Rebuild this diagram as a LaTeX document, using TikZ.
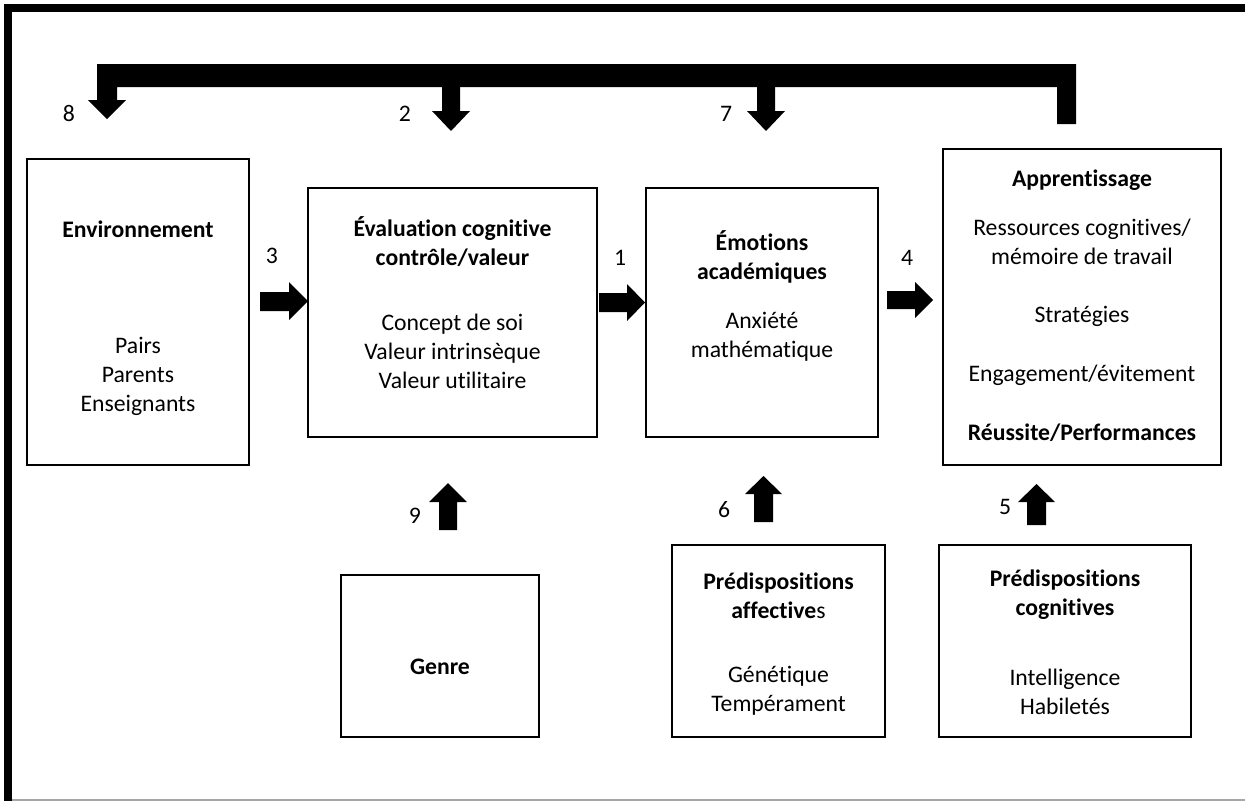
\documentclass[tikz,border=0pt]{standalone}
\usepackage{fontspec}
\setmainfont{Carlito}[Ligatures=NoCommon]
\begin{document}
\begin{tikzpicture}[x=1pt,y=-1pt,
  txt/.style={font=\fontsize{23.7}{29}\selectfont, align=center, inner sep=0pt},
  box/.style={draw=black, line width=2pt, inner sep=0pt},
  blk/.style={fill=black, draw=none}]
\useasboundingbox (0,0) rectangle (1245,801);
\fill[white] (0,0) rectangle (1245,801);
% page frame
\fill[black] (4,4) rectangle (1245,12);
\fill[black] (4,4) rectangle (12,801);
\draw[gray!70, line width=1.2pt] (12,800) -- (1245,800);

% boxes
\node[box, minimum width=222pt, minimum height=306pt] (env) at (138,312) {};
\node[box, minimum width=289pt, minimum height=249pt] (eval) at (452.5,312.5) {};
\node[box, minimum width=232pt, minimum height=249pt] (emo) at (762,312.5) {};
\node[box, minimum width=278pt, minimum height=316pt] (app) at (1082,307) {};
\node[box, minimum width=198pt, minimum height=162pt] (genre) at (440,656) {};
\node[box, minimum width=213pt, minimum height=192pt] (paff) at (778.5,641) {};
\node[box, minimum width=252pt, minimum height=192pt] (pcog) at (1065,641) {};

% texts
\node[txt] (envT) at (138,229) {\textbf{Environnement}};
\node[txt] (envL) at (138,376) {Pairs\\Parents\\Enseignants};
\node[txt] (evalT) at (452.5,241.5) {\textbf{Évaluation cognitive}\\\textbf{contrôle/valeur}};
\node[txt] (evalL) at (452.5,351) {Concept de soi\\Valeur intrinsèque\\Valeur utilitaire};
\node[txt] (emoT) at (762,256.5) {\textbf{Émotions}\\\textbf{académiques}};
\node[txt] (emoL) at (762,336.5) {Anxiété\\mathématique};
\node[txt] (appT) at (1082,180) {\textbf{Apprentissage}};
\node[txt] (appA) at (1082,241.5) {Ressources cognitives/\\mémoire de travail};
\node[txt] (appB) at (1082,316) {Stratégies};
\node[txt] (appC) at (1082,375) {Engagement/évitement};
\node[txt] (appD) at (1082,433) {\textbf{Réussite/Performances}};
\node[txt] (genreT) at (440,667) {\textbf{Genre}};
\node[txt] (paffT) at (778.5,595.5) {\textbf{Prédispositions}\\\textbf{affective}s};
\node[txt] (paffL) at (778.5,690.5) {Génétique\\Tempérament};
\node[txt] (pcogT) at (1065,594.5) {\textbf{Prédispositions}\\\textbf{cognitives}};
\node[txt] (pcogL) at (1065,691.5) {Intelligence\\Habiletés};

% number labels
\node[txt] (n8) at (69,113) {8};
\node[txt] (n2) at (405,114) {2};
\node[txt] (n7) at (726,114) {7};
\node[txt] (n3) at (272,256) {3};
\node[txt] (n1) at (620,258) {1};
\node[txt] (n4) at (907,258) {4};
\node[txt] (n9) at (415,516) {9};
\node[txt] (n6) at (724,510) {6};
\node[txt] (n5) at (1005,507) {5};

% top feedback bar with arrow 8
\fill[blk] (97,64) -- (1076,64) -- (1076,124) -- (1057,124) -- (1057,87)
  -- (117,87) -- (117,100) -- (126,100) -- (107,119) -- (88,100) -- (97,100) -- cycle;
% down arrows 2 and 7
\fill[blk] (442,86) -- (460,86) -- (460,111) -- (470,111) -- (451,131) -- (432,111) -- (442,111) -- cycle;
\fill[blk] (757,86) -- (775,86) -- (775,111) -- (785,111) -- (766,131) -- (747,111) -- (757,111) -- cycle;

% right arrows 3, 1, 4
\fill[blk] (260,292) -- (289,292) -- (289,282) -- (308,301) -- (289,320) -- (289,311) -- (260,311) -- cycle;
\fill[blk] (599,293) -- (627,293) -- (627,284) -- (645,302.5) -- (627,321) -- (627,312) -- (599,312) -- cycle;
\fill[blk] (887,291) -- (915,291) -- (915,282) -- (933,300) -- (915,318) -- (915,309) -- (887,309) -- cycle;

% up arrows 9, 6, 5
\fill[blk] (439,530) -- (457,530) -- (457,502) -- (467,502) -- (448,483) -- (429,502) -- (439,502) -- cycle;
\fill[blk] (754,522) -- (773,522) -- (773,494) -- (782,494) -- (763.5,476) -- (745,494) -- (754,494) -- cycle;
\fill[blk] (1027,525) -- (1046,525) -- (1046,502) -- (1055,502) -- (1036.5,484) -- (1018,502) -- (1027,502) -- cycle;
\end{tikzpicture}
\end{document}
